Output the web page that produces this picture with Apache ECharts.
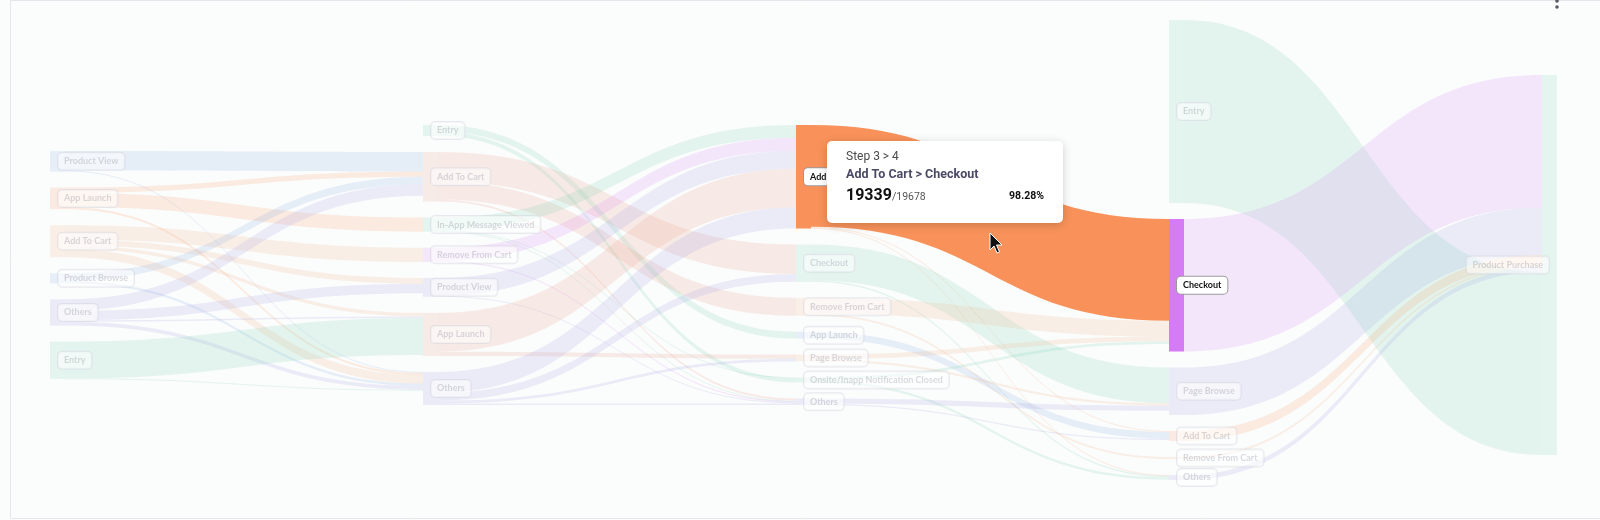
<!DOCTYPE html>
<html>
<head>
<meta charset="utf-8">
<style>
  html, body { margin: 0; padding: 0; background: #fbfcfc; }
  #main { width: 1600px; height: 520px; }
</style>
<script src="https://cdn.jsdelivr.net/npm/echarts@6/dist/echarts.min.js"></script>
</head>
<body>
<div id="main"></div>
<script>
// events at every step of the path, top to bottom
const step1Nodes = ['Product View', 'App Launch', 'Add To Cart', 'Product Browse', 'Others', 'Entry']
const step2Nodes = ['Entry', 'Add To Cart', 'In-App Message Viewed', 'Remove From Cart', 'Product View', 'App Launch', 'Others']
const step3Nodes = ['Add To Cart', 'Checkout', 'Remove From Cart', 'App Launch', 'Page Browse', 'Onsite/Inapp Notification Closed', 'Others']
const step4Nodes = ['Entry', 'Checkout', 'Page Browse', 'Add To Cart', 'Remove From Cart', 'Others']
const step5Nodes = ['Product Purchase']

// [from, to, users] between step n and n+1
const step1Links = [
  ['Product View', 'Add To Cart', 3700], ['Product View', 'Others', 200],
  ['App Launch', 'Add To Cart', 1000], ['App Launch', 'In-App Message Viewed', 2700], ['App Launch', 'Others', 400],
  ['Add To Cart', 'Remove From Cart', 2700], ['Add To Cart', 'Product View', 1100], ['Add To Cart', 'App Launch', 700], ['Add To Cart', 'Others', 1600],
  ['Product Browse', 'Add To Cart', 1400], ['Product Browse', 'Others', 500],
  ['Others', 'Add To Cart', 2200], ['Others', 'Product View', 1800], ['Others', 'App Launch', 300], ['Others', 'Others', 700],
  ['Entry', 'App Launch', 7000], ['Entry', 'Others', 100]
]
const step2Links = [
  ['Entry', 'App Launch', 1300], ['Entry', 'Onsite/Inapp Notification Closed', 800],
  ['Add To Cart', 'Checkout', 5600], ['Add To Cart', 'Remove From Cart', 3400], ['Add To Cart', 'Others', 400],
  ['In-App Message Viewed', 'Add To Cart', 2400], ['In-App Message Viewed', 'Onsite/Inapp Notification Closed', 150], ['In-App Message Viewed', 'Others', 150],
  ['Remove From Cart', 'Add To Cart', 2500], ['Remove From Cart', 'Others', 200],
  ['Product View', 'Add To Cart', 3400], ['Product View', 'Others', 200],
  ['App Launch', 'Add To Cart', 7400], ['App Launch', 'Page Browse', 800],
  ['Others', 'Add To Cart', 3978], ['Others', 'Checkout', 1500], ['Others', 'Page Browse', 500], ['Others', 'Others', 300]
]
const step3Links = [
  ['Add To Cart', 'Checkout', 19339], ['Add To Cart', 'Add To Cart', 200], ['Add To Cart', 'Others', 139],
  ['Checkout', 'Page Browse', 6800], ['Checkout', 'Others', 300],
  ['Remove From Cart', 'Checkout', 3000], ['Remove From Cart', 'Remove From Cart', 400],
  ['App Launch', 'Add To Cart', 1300],
  ['Page Browse', 'Checkout', 900], ['Page Browse', 'Page Browse', 400],
  ['Onsite/Inapp Notification Closed', 'Checkout', 500], ['Onsite/Inapp Notification Closed', 'Others', 450],
  ['Others', 'Page Browse', 1000], ['Others', 'Add To Cart', 250]
]
const step4Links = [
  ['Entry', 'Product Purchase', 34800], ['Checkout', 'Product Purchase', 25200], ['Page Browse', 'Product Purchase', 9000],
  ['Add To Cart', 'Product Purchase', 1900], ['Remove From Cart', 'Product Purchase', 400], ['Others', 'Product Purchase', 950]
]

// the hovered link
const hoverStep = 3
const hoverSource = 'Add To Cart'
const hoverTarget = 'Checkout'

const stepNodes = [step1Nodes, step2Nodes, step3Nodes, step4Nodes, step5Nodes]
const stepLinks = [step1Links, step2Links, step3Links, step4Links]

const BLUE = '#7fa6e4', ORANGE = '#f8925a', GREEN = '#6fcdaa', PURPLE = '#d57bf3', LAVENDER = '#9b98e0', SALMON = '#e8957a', PEACH = '#f6ae7c'
const nodeColors = [
  [BLUE, ORANGE, PEACH, BLUE, LAVENDER, GREEN],
  [GREEN, SALMON, GREEN, PURPLE, LAVENDER, SALMON, LAVENDER],
  [ORANGE, GREEN, PEACH, BLUE, PEACH, GREEN, LAVENDER],
  [GREEN, PURPLE, LAVENDER, ORANGE, PEACH, LAVENDER],
  [GREEN]
]

const TOP = 20, BOTTOM = 10
const H = 520 - TOP - BOTTOM
const GAP = 16        // gap drawn between nodes
const SCALE_GAP = 22  // gap the library uses to size the tallest column

const key = (step, name) => step + '|' + name
const srcKey = key(hoverStep, hoverSource)
const tgtKey = key(hoverStep + 1, hoverTarget)

// in / out totals per node, node value is the larger one (same as the library)
let inSum = {}, outSum = {}
stepLinks.forEach((list, s) => list.forEach(l => {
  let a = key(s + 1, l[0]), b = key(s + 2, l[1])
  outSum[a] = (outSum[a] || 0) + l[2]
  inSum[b] = (inSum[b] || 0) + l[2]
}))
const valueOf = k => Math.max(inSum[k] || 0, outSum[k] || 0)

// same scale the library uses; columns centred, the tallest one hangs from the top
let ky = Infinity
stepNodes.forEach((list, s) => {
  let total = list.reduce((a, n) => a + valueOf(key(s + 1, n)), 0)
  ky = Math.min(ky, (H - (list.length - 1) * SCALE_GAP) / total)
})
let localY = {}
stepNodes.forEach((list, s) => {
  let colH = list.reduce((a, n) => a + valueOf(key(s + 1, n)) * ky, 0) + (list.length - 1) * GAP
  let y = colH > 0.9 * H ? 0 : (H - colH) / 2
  list.forEach(n => {
    let k = key(s + 1, n)
    localY[k] = y / H
    y += valueOf(k) * ky + GAP
  })
})

const fadedLabel = {
  color: 'rgba(70,70,95,0.2)',
  backgroundColor: 'rgba(255,255,255,0.55)',
  borderColor: 'rgba(205,205,218,0.4)'
}
const activeLabel = {
  color: '#111',
  backgroundColor: '#fff',
  borderColor: '#9a9a9a'
}

let nodes = []
stepNodes.forEach((list, s) => {
  // sessions that start mid-path are stacked last on the links
  let ordered = list.filter(n => s === 0 || inSum[key(s + 1, n)])
    .concat(list.filter(n => s > 0 && !inSum[key(s + 1, n)]))
  ordered.forEach(name => {
    let k = key(s + 1, name)
    let active = k === srcKey || k === tgtKey
    nodes.push({
      name: k,
      depth: s,
      localY: localY[k],
      itemStyle: { color: nodeColors[s][list.indexOf(name)], opacity: active ? 1 : 0.16 },
      label: Object.assign({ position: s === 4 ? 'insideRight' : 'insideLeft' }, active ? activeLabel : fadedLabel)
    })
  })
})

let links = []
let hoverLink = null
stepLinks.forEach((list, s) => {
  list.forEach(l => {
    let item = { source: key(s + 1, l[0]), target: key(s + 2, l[1]), value: l[2] }
    if (item.source === srcKey && item.target === tgtKey) {
      item.lineStyle = { opacity: 1 }
      hoverLink = item
    } else {
      links.push(item)
    }
  })
})
// draw the hovered link last so it sits on top
links.push(hoverLink)

const sourceTotal = outSum[srcKey]
const hoverPct = hoverLink.value / sourceTotal * 100

let chart = echarts.init(document.getElementById('main'))
let option = {
  backgroundColor: '#fbfcfc',
  animation: false,
  series: [{
    type: 'sankey',
    left: 50,
    right: 43,
    top: TOP,
    bottom: BOTTOM,
    nodeWidth: 15,
    nodeGap: SCALE_GAP,
    layoutIterations: 0,
    draggable: false,
    emphasis: { disabled: true },
    data: nodes,
    links: links,
    lineStyle: { color: 'source', opacity: 0.17, curveness: 0.5 },
    itemStyle: { borderWidth: 0 },
    label: {
      fontFamily: 'Lato',
      fontSize: 9,
      fontWeight: 'bold',
      distance: 8,
      padding: [4, 6],
      borderWidth: 1,
      borderRadius: 4,
      formatter: p => p.name.split('|')[1]
    }
  }],
  graphic: [
    {
      type: 'rect', silent: true,
      shape: { x: 10.5, y: 0.5, width: 1600, height: 518 },
      style: { fill: 'none', stroke: '#e3e6ea', lineWidth: 1 }
    },
    { type: 'circle', shape: { cx: 1557, cy: 1, r: 1.8 }, style: { fill: '#5a5a66' } },
    { type: 'circle', shape: { cx: 1557, cy: 7, r: 1.8 }, style: { fill: '#5a5a66' } },
    {
      type: 'group', x: 827, y: 141, zlevel: 1,
      children: [
        {
          type: 'rect', zlevel: 1,
          shape: { x: 0, y: 0, width: 236, height: 82, r: 5 },
          style: { fill: '#fff', shadowBlur: 10, shadowColor: 'rgba(0,0,0,0.18)', shadowOffsetY: 2 }
        },
        {
          type: 'text', x: 19, y: 10, zlevel: 1,
          style: { text: 'Step ' + hoverStep + ' > ' + (hoverStep + 1), font: '12px Roboto', fill: '#4a4a4a' }
        },
        {
          type: 'text', x: 19, y: 27, zlevel: 1,
          style: { text: hoverSource + ' > ' + hoverTarget, font: 'bold 12.5px Roboto', fill: '#4b4a66' }
        },
        {
          type: 'text', x: 19, y: 47, zlevel: 1,
          style: {
            text: '{a|' + hoverLink.value + '}{b|/' + sourceTotal + '}',
            rich: {
              a: { font: 'bold 16px Roboto', fill: '#111' },
              b: { font: '10.5px Roboto', fill: '#555', padding: [3, 0, 0, 0] }
            }
          }
        },
        {
          type: 'text', x: 217, y: 50, zlevel: 1,
          style: { text: hoverPct.toFixed(2) + '%', font: 'bold 10.5px Roboto', fill: '#111', align: 'right' }
        }
      ]
    },
    {
      type: 'polygon', zlevel: 1, silent: true,
      shape: { points: [[990, 233], [990, 250], [994, 246], [997, 253], [999.5, 252], [996.5, 245], [1002, 245]] },
      style: { fill: '#111', stroke: '#fff', lineWidth: 1 }
    }
  ]
}
chart.setOption(option)
</script>
</body>
</html>
